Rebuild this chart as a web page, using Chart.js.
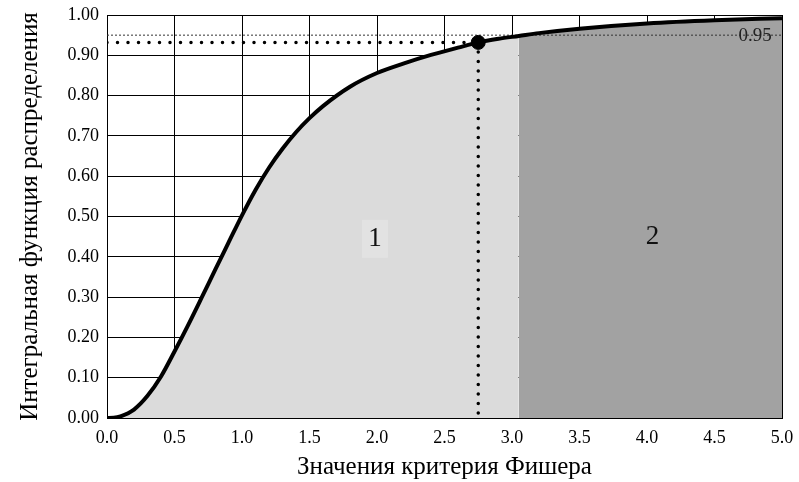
<!DOCTYPE html>
<html>
<head>
<meta charset="utf-8">
<script src="https://cdn.jsdelivr.net/npm/chart.js@4.4.0/dist/chart.umd.min.js"></script>
<style>
  body { margin: 0; background: #fff; }
</style>
</head>
<body>
<canvas id="fisherChart" width="799" height="482"></canvas>
<script>
// Values
const fValues = [0, 0.05, 0.1, 0.2, 0.3, 0.4, 0.5, 0.6, 0.7, 0.8, 0.9, 1.0, 1.1, 1.2, 1.3, 1.4, 1.5, 1.6, 1.8, 2.0, 2.2, 2.4, 2.6, 2.75, 2.9, 3.05, 3.2, 3.5, 4.0, 4.5, 5.0];
const cdfValues = [0, 0.0005, 0.004, 0.021, 0.055, 0.103, 0.165, 0.23, 0.298, 0.367, 0.435, 0.503, 0.566, 0.621, 0.668, 0.709, 0.744, 0.774, 0.822, 0.856, 0.88, 0.901, 0.919, 0.932, 0.941, 0.948, 0.955, 0.966, 0.979, 0.987, 0.992];
const xTicks = ['0.0', '0.5', '1.0', '1.5', '2.0', '2.5', '3.0', '3.5', '4.0', '4.5', '5.0'];
const criticalLevel = 0.95;
const boundaryX = 3.05;
const observedF = 2.75;
const observedCdf = 0.932;
const regionLabels = ['1', '2'];

const curve = fValues.map(function(x, i) { return { x: x, y: cdfValues[i] }; });
const lightArea = curve.filter(function(p) { return p.x <= boundaryX; });
const darkArea = curve.filter(function(p) { return p.x >= boundaryX; });

const serif = "'Liberation Serif', 'DejaVu Serif', serif";

// text labels inside the plot ("0.95", "1", "2")
const labelPlugin = {
  id: 'labels',
  afterDatasetsDraw: function(chart) {
    const ctx = chart.ctx;
    const xs = chart.scales.x;
    const ys = chart.scales.y;
    ctx.save();
    ctx.textAlign = 'center';
    ctx.textBaseline = 'middle';

    // region 1 with faint backdrop
    const x1 = xs.getPixelForValue(1.985);
    const y1 = ys.getPixelForValue(0.447);
    ctx.fillStyle = '#e2e2e2';
    ctx.fillRect(x1 - 13, y1 - 18, 26, 38);
    ctx.fillStyle = '#111';
    ctx.font = '27px ' + serif;
    ctx.fillText(regionLabels[0], x1, y1 + 1);
    ctx.fillText(regionLabels[1], xs.getPixelForValue(4.04), ys.getPixelForValue(0.452) + 1);

    ctx.font = '19px ' + serif;
    ctx.fillStyle = '#222';
    ctx.fillText(criticalLevel.toFixed(2), xs.getPixelForValue(4.8), ys.getPixelForValue(criticalLevel) + 1);
    ctx.restore();
  }
};

const ctx = document.getElementById('fisherChart').getContext('2d');

new Chart(ctx, {
  type: 'line',
  data: {
    datasets: [
      {
        // observed point
        data: [{ x: observedF, y: observedCdf }],
        showLine: false,
        pointRadius: 7,
        pointBackgroundColor: '#000',
        pointBorderColor: '#000',
      },
      {
        // CDF curve
        data: curve,
        borderColor: '#000',
        borderWidth: 4,
        pointRadius: 0,
        cubicInterpolationMode: 'monotone',
        fill: false,
      },
      {
        // horizontal dotted line
        data: [{ x: 0, y: observedCdf }, { x: observedF, y: observedCdf }],
        borderColor: '#000',
        borderWidth: 3.5,
        borderDash: [0, 10.5],
        borderCapStyle: 'round',
        pointRadius: 0,
        fill: false,
      },
      {
        // vertical dotted line
        data: [{ x: observedF, y: observedCdf }, { x: observedF, y: 0 }],
        borderColor: '#000',
        borderWidth: 3.5,
        borderDash: [0, 9.5],
        borderCapStyle: 'round',
        pointRadius: 0,
        fill: false,
      },
      {
        // 0.95 dashed level
        data: [{ x: 0, y: criticalLevel }, { x: 5, y: criticalLevel }],
        borderColor: '#333',
        borderWidth: 1,
        borderDash: [2, 2],
        pointRadius: 0,
        fill: false,
      },
      {
        // region 2 fill
        data: darkArea,
        borderWidth: 0,
        borderColor: 'rgba(0,0,0,0)',
        backgroundColor: '#a2a2a2',
        pointRadius: 0,
        cubicInterpolationMode: 'monotone',
        fill: 'origin',
      },
      {
        // region 1 fill
        data: lightArea,
        borderWidth: 0,
        borderColor: 'rgba(0,0,0,0)',
        backgroundColor: '#dbdbdb',
        pointRadius: 0,
        cubicInterpolationMode: 'monotone',
        fill: 'origin',
      },
    ],
  },
  options: {
    responsive: false,
    animation: false,
    layout: { padding: { top: 15, right: 17, left: 0, bottom: 0 } },
    plugins: {
      legend: { display: false },
      tooltip: { enabled: false },
    },
    scales: {
      x: {
        type: 'linear',
        min: 0,
        max: 5,
        afterFit: function(scale) {
          scale.height = 64;
          scale.paddingLeft = 0;
          scale.paddingRight = 0;
        },
        ticks: {
          stepSize: 0.5,
          padding: 9,
          color: '#000',
          font: { family: serif, size: 18 },
          maxRotation: 0,
          callback: function(value) {
            const i = Math.round(value / 0.5);
            return xTicks[i] !== undefined ? xTicks[i] : '';
          },
        },
        grid: { color: '#000', lineWidth: 1, drawTicks: false },
        border: { color: '#000', width: 1 },
        title: {
          display: true,
          text: 'Значения критерия Фишера',
          color: '#000',
          font: { family: serif, size: 25 },
          padding: { top: 0, bottom: 0 },
        },
      },
      y: {
        min: 0,
        max: 1,
        afterFit: function(scale) {
          scale.width = 107;
          scale.paddingTop = 0;
          scale.paddingBottom = 0;
        },
        ticks: {
          stepSize: 0.1,
          padding: 8,
          color: '#000',
          font: { family: serif, size: 18 },
          callback: function(value) { return value.toFixed(2); },
        },
        grid: { color: '#000', lineWidth: 1, drawTicks: false },
        border: { color: '#000', width: 1 },
        title: {
          display: true,
          text: 'Интегральная функция распределения',
          color: '#000',
          font: { family: serif, size: 25 },
          padding: { top: 15, bottom: 0 },
        },
      },
    },
  },
  plugins: [labelPlugin],
});
</script>
</body>
</html>
